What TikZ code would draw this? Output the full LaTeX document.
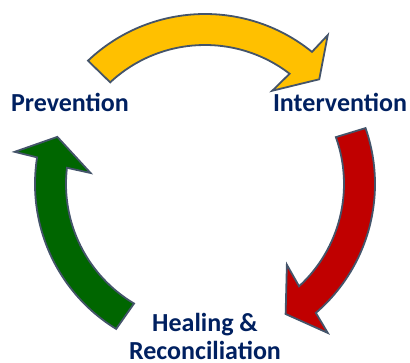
\documentclass[tikz,border=0pt]{standalone}
\usepackage{fontspec}
\setmainfont{Carlito}
\begin{document}
\begin{tikzpicture}[x=1pt,y=1pt,
  cyclearrow/.style={draw=edgeslate, line width=1.8pt, line join=miter},
  phase/.style={font=\fontsize{26}{27}\selectfont\bfseries, text=navytext, inner sep=0pt, align=center}]
\definecolor{navytext}{HTML}{002060}
\definecolor{edgeslate}{HTML}{44546A}
\definecolor{goldfill}{HTML}{FFC000}
\definecolor{redfill}{HTML}{C00000}
\definecolor{greenfill}{HTML}{006600}
\useasboundingbox (0,0) rectangle (410,362);

\begin{scope}[shift={(205,178)}]
  % Prevention -> Intervention (top)
  \path[cyclearrow, fill=goldfill]
    (133.5:170) arc[start angle=133.5, end angle=51, radius=170]
    -- (50.5:193) -- (42.5:155) -- (54.2:115) -- (52.5:139)
    arc[start angle=52.5, end angle=133, radius=139] -- cycle;
  % Intervention -> Healing & Reconciliation (right)
  \path[cyclearrow, fill=redfill]
    (19.2:170) arc[start angle=19.2, end angle=-49.3, radius=170]
    -- (-50.5:193) -- (-58.2:153) -- (-44.6:115) -- (-47.4:139)
    arc[start angle=-47.4, end angle=19.7, radius=139] -- cycle;
  % Healing & Reconciliation -> Prevention (left)
  \path[cyclearrow, fill=greenfill]
    (238.5:170) arc[start angle=238.5, end angle=171, radius=170]
    -- (170.4:193) -- (162.3:155) -- (174.5:115) -- (173.3:139)
    arc[start angle=173.3, end angle=239.3, radius=139] -- cycle;
\end{scope}

\node[phase, anchor=base] (prev) at (70,250) {Prevention};
\node[phase, anchor=base] (interv) at (340,250) {Intervention};
% base anchor of a two-line node sits on the last line
\node[phase, anchor=base] (heal) at (205,3) {Healing \&\\Reconciliation};
\end{tikzpicture}
\end{document}
